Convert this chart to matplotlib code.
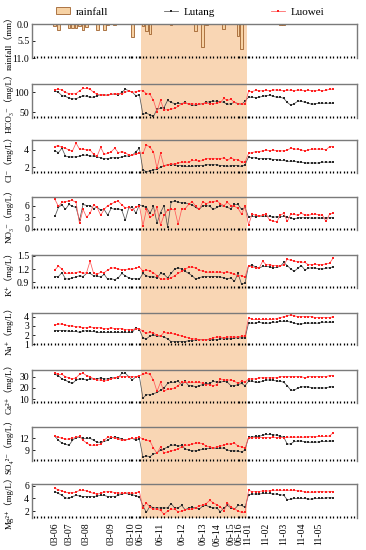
import numpy as np
import matplotlib
matplotlib.use('Agg')
import matplotlib.pyplot as plt
from matplotlib.patches import Patch, Rectangle
from matplotlib.lines import Line2D
from matplotlib.ticker import MultipleLocator

plt.rcParams['font.family'] = ['Liberation Serif', 'DejaVu Serif', 'Noto Sans CJK SC']
plt.rcParams['font.size'] = 7

#-----------------------------------------------------------------
#                            data
#-----------------------------------------------------------------
# samples: March (25), June (30), November (25)
hco3_lutang = ([104, 100, 92, 90, 86, 84, 84, 88, 92, 90, 88, 88, 92, 94, 94, 93, 95, 96, 94, 100, 108, 104, 100, 92, 94]
               + [45, 48, 44, 40, 58, 60, 62, 80, 75, 72, 73, 72, 75, 70, 68, 68, 70, 72, 75, 77, 78, 78, 77, 75, 70, 72, 75, 72, 70, 78]
               + [88, 88, 87, 88, 90, 92, 93, 90, 88, 88, 85, 75, 68, 72, 78, 78, 75, 73, 70, 72, 73, 73, 73, 73, 73])
hco3_luowei = ([106, 108, 106, 100, 97, 96, 97, 104, 110, 110, 108, 100, 96, 93, 93, 93, 95, 97, 96, 97, 100, 104, 100, 102, 104]
               + [104, 97, 95, 80, 52, 80, 56, 57, 58, 60, 65, 72, 73, 72, 72, 70, 71, 72, 73, 72, 72, 73, 75, 85, 80, 83, 75, 72, 72, 70]
               + [103, 102, 105, 104, 104, 105, 104, 106, 106, 105, 104, 106, 105, 104, 106, 105, 104, 105, 104, 104, 105, 104, 105, 108, 108])

cl_lutang = ([3.9, 3.7, 4.2, 3.3, 3.2, 3.2, 3.2, 3.3, 3.4, 3.4, 3.3, 3.3, 3.2, 3.1, 3.0, 3.0, 3.1, 3.1, 3.1, 3.2, 3.3, 3.3, 3.4, 3.8, 4.2]
             + [1.7, 1.5, 1.6, 1.7, 1.8, 2.0, 2.2, 2.3, 2.3, 2.3, 2.2, 2.2, 2.1, 2.1, 2.1, 2.2, 2.2, 2.2, 2.3, 2.3, 2.3, 2.3, 2.2, 2.2, 2.1, 2.2, 2.2, 2.2, 2.1, 2.3]
             + [3.2, 3.1, 3.1, 3.0, 3.0, 3.0, 3.0, 2.9, 2.9, 2.8, 2.8, 2.7, 2.7, 2.7, 2.6, 2.6, 2.5, 2.5, 2.5, 2.5, 2.5, 2.6, 2.6, 2.6, 2.6])
cl_luowei = ([4.4, 4.5, 4.3, 4.2, 4.0, 3.9, 4.8, 4.1, 4.1, 4.0, 4.0, 3.5, 3.3, 4.3, 3.5, 3.6, 3.8, 4.2, 3.7, 3.8, 3.7, 3.4, 3.4, 3.5, 3.7]
             + [3.6, 4.6, 4.3, 3.8, 1.9, 3.6, 2.1, 2.3, 2.4, 2.4, 2.5, 2.6, 2.6, 2.6, 2.8, 2.8, 2.7, 2.8, 3.0, 3.0, 3.0, 3.0, 3.0, 3.1, 2.8, 3.1, 2.9, 2.9, 2.6, 2.6]
             + [3.6, 3.7, 3.8, 3.8, 3.9, 4.0, 3.9, 4.0, 3.9, 3.9, 3.9, 4.0, 4.2, 4.1, 4.1, 4.0, 3.9, 4.0, 4.1, 4.1, 4.1, 4.1, 4.0, 4.4, 4.4])

no3_lutang = ([3.2, 5.5, 6.2, 5.0, 6.3, 5.8, 5.5, 2.2, 6.3, 6.0, 6.0, 5.2, 5.6, 4.8, 5.0, 3.5, 5.3, 5.0, 5.2, 4.8, 2.2, 5.5, 5.6, 4.0, 6.2]
              + [5.8, 5.5, 4.0, 5.8, 1.5, 4.2, 6.0, 0.5, 6.8, 7.2, 6.8, 6.7, 6.7, 6.4, 6.2, 5.5, 5.0, 6.0, 6.0, 5.8, 5.0, 5.5, 6.0, 5.8, 5.5, 5.2, 6.3, 6.3, 5.0, 5.5]
              + [3.0, 3.2, 3.1, 3.3, 3.2, 3.3, 3.2, 3.0, 3.1, 3.1, 3.2, 3.0, 2.8, 2.6, 2.8, 2.9, 2.8, 2.9, 2.7, 2.8, 2.8, 2.7, 2.9, 2.8, 2.9])
no3_luowei = ([7.6, 5.8, 6.8, 7.0, 7.2, 7.3, 6.8, 1.4, 5.0, 3.0, 4.0, 6.2, 5.5, 3.5, 5.0, 6.0, 6.3, 7.0, 7.1, 6.2, 5.4, 5.5, 4.8, 5.6, 6.0]
              + [0.8, 5.0, 3.0, 3.5, 5.5, 1.0, 3.5, 4.8, 5.0, 5.0, 1.2, 5.0, 5.2, 6.3, 7.0, 5.8, 5.0, 7.0, 6.5, 6.8, 7.0, 7.2, 6.5, 6.0, 6.8, 6.0, 5.8, 5.3, 3.8, 5.8]
              + [1.0, 3.8, 3.5, 3.3, 3.6, 3.7, 2.2, 2.0, 1.8, 3.5, 4.0, 1.9, 3.8, 3.7, 3.5, 4.0, 3.6, 3.5, 3.7, 3.8, 3.6, 3.5, 1.9, 3.8, 4.0])

k_lutang = ([1.03, 1.03, 1.12, 0.98, 0.97, 1.00, 1.02, 1.05, 1.03, 1.10, 1.10, 1.05, 1.04, 1.02, 1.08, 0.97, 0.98, 0.96, 1.00, 1.10, 1.05, 1.00, 0.98, 0.98, 0.97]
            + [1.10, 1.05, 1.02, 1.03, 1.00, 1.10, 1.08, 1.00, 1.10, 1.20, 1.23, 1.20, 1.15, 1.10, 1.05, 0.97, 1.00, 1.03, 1.03, 1.03, 1.03, 1.03, 1.02, 1.00, 0.98, 1.00, 0.92, 1.10, 0.86, 0.88]
            + [1.28, 1.29, 1.25, 1.22, 1.26, 1.26, 1.25, 1.23, 1.24, 1.26, 1.35, 1.28, 1.20, 1.15, 1.22, 1.28, 1.18, 1.22, 1.23, 1.22, 1.21, 1.20, 1.22, 1.23, 1.25])
k_luowei = ([1.18, 1.27, 1.20, 1.10, 1.11, 1.10, 1.12, 1.14, 1.10, 1.12, 1.38, 1.10, 1.08, 1.13, 1.12, 1.18, 1.22, 1.23, 1.20, 1.19, 1.19, 1.20, 1.20, 1.22, 1.25]
            + [1.15, 1.18, 1.15, 1.12, 1.05, 0.97, 0.97, 0.98, 1.00, 1.05, 1.10, 1.15, 1.20, 1.24, 1.25, 1.22, 1.18, 1.15, 1.13, 1.13, 1.13, 1.13, 1.13, 1.12, 1.14, 1.10, 1.08, 1.05, 1.05, 1.02]
            + [1.28, 1.25, 1.23, 1.22, 1.38, 1.30, 1.30, 1.28, 1.28, 1.27, 1.30, 1.42, 1.40, 1.38, 1.37, 1.36, 1.35, 1.30, 1.30, 1.31, 1.30, 1.30, 1.32, 1.33, 1.45])

na_lutang = ([2.5, 2.5, 2.5, 2.5, 2.4, 2.4, 2.4, 2.3, 2.4, 2.5, 2.4, 2.4, 2.3, 2.3, 2.3, 2.3, 2.3, 2.3, 2.3, 2.3, 2.3, 2.3, 2.3, 2.8, 2.6]
             + [1.7, 1.6, 1.9, 2.0, 1.9, 1.9, 1.8, 1.6, 1.3, 1.3, 1.3, 1.3, 1.3, 1.4, 1.4, 1.5, 1.5, 1.5, 1.5, 1.5, 1.5, 1.5, 1.6, 1.6, 1.6, 1.6, 1.7, 1.7, 1.7, 1.7]
             + [3.3, 3.3, 3.3, 3.4, 3.3, 3.3, 3.3, 3.4, 3.4, 3.5, 3.5, 3.5, 3.4, 3.3, 3.2, 3.2, 3.3, 3.3, 3.3, 3.3, 3.3, 3.4, 3.4, 3.4, 3.4])
na_luowei = ([3.1, 3.2, 3.2, 3.1, 3.0, 3.0, 2.9, 2.9, 2.8, 2.8, 2.9, 2.8, 2.8, 2.8, 2.7, 2.7, 2.8, 2.7, 2.7, 2.7, 2.6, 2.6, 2.6, 2.7, 2.7]
             + [2.4, 2.2, 2.3, 2.2, 2.0, 1.9, 2.3, 2.2, 2.2, 2.1, 2.0, 1.9, 1.8, 1.7, 1.6, 1.6, 1.5, 1.5, 1.5, 1.6, 1.7, 1.8, 1.8, 1.7, 1.8, 1.8, 1.8, 1.8, 1.9, 1.9]
             + [3.9, 3.7, 3.7, 3.7, 3.7, 3.7, 3.7, 3.7, 3.8, 3.9, 4.0, 4.1, 4.2, 4.1, 4.0, 4.0, 4.0, 4.0, 4.0, 3.9, 3.9, 3.9, 3.9, 3.9, 4.0])

ca_lutang = ([32, 31, 28, 27, 25, 24, 27, 28, 28, 27, 28, 28, 28, 29, 28, 28, 29, 29, 29, 33, 33, 30, 27, 30, 30]
             + [11, 14, 14, 15, 16, 18, 20, 24, 25, 25, 26, 23, 26, 22, 22, 21, 22, 23, 24, 24, 26, 25, 25, 26, 25, 22, 22, 23, 24, 22]
             + [26, 26, 25, 25, 26, 27, 27, 27, 26, 26, 25, 22, 18, 18, 20, 21, 21, 21, 20, 20, 20, 20, 20, 21, 21])
ca_luowei = ([33, 32, 32, 30, 29, 28, 29, 32, 33, 31, 30, 28, 27, 27, 26, 27, 28, 29, 30, 30, 30, 30, 30, 30, 31]
             + [32, 33, 32, 27, 17, 25, 17, 19, 19, 20, 22, 25, 25, 25, 25, 25, 25, 24, 23, 23, 22, 23, 28, 27, 27, 27, 26, 24, 26, 25]
             + [28, 28, 28, 29, 29, 29, 29, 29, 29, 30, 30, 30, 30, 30, 30, 30, 29, 30, 30, 30, 30, 30, 30, 31, 31])

so4_lutang = ([12.5, 11.5, 10.8, 10.5, 10.2, 11.5, 12.2, 12.3, 12.0, 12.0, 12.0, 11.5, 11.0, 11.0, 11.2, 11.5, 12.2, 12.3, 12.2, 11.8, 11.6, 11.8, 12.0, 11.5, 11.8]
              + [7.2, 7.5, 7.3, 8.0, 8.3, 9.0, 9.3, 9.8, 10.2, 10.3, 10.0, 10.2, 9.3, 9.0, 8.8, 8.8, 9.0, 9.2, 9.3, 9.5, 9.5, 9.4, 9.5, 9.5, 9.0, 8.8, 8.8, 8.7, 8.5, 9.0]
              + [12.3, 12.3, 12.5, 12.5, 12.8, 13.0, 13.0, 12.9, 12.8, 12.5, 12.3, 10.5, 10.6, 11.2, 11.3, 11.3, 11.1, 11.0, 11.0, 11.0, 11.1, 11.2, 11.2, 11.3, 11.3])
so4_luowei = ([12.5, 12.3, 12.0, 11.8, 11.8, 12.0, 12.3, 12.5, 11.5, 10.8, 10.3, 10.2, 10.3, 10.5, 11.5, 12.3, 12.3, 12.0, 11.8, 11.5, 11.5, 11.8, 12.0, 12.0, 12.3]
              + [11.8, 11.5, 11.3, 9.5, 8.2, 9.8, 8.3, 8.5, 8.8, 9.0, 9.3, 9.8, 10.2, 10.3, 10.5, 10.8, 10.8, 10.6, 10.0, 9.8, 9.6, 9.8, 10.0, 10.3, 10.5, 10.6, 10.8, 10.0, 9.8, 9.5]
              + [12.1, 12.1, 12.2, 12.2, 12.2, 12.2, 12.2, 12.3, 12.2, 12.2, 12.2, 12.3, 12.3, 12.3, 12.3, 12.3, 12.3, 12.4, 12.4, 12.4, 12.5, 12.5, 12.5, 12.6, 13.4])

mg_lutang = ([5.1, 4.8, 4.5, 4.1, 4.0, 4.3, 4.5, 4.4, 4.3, 4.3, 4.3, 4.3, 4.4, 4.5, 4.5, 4.3, 4.3, 4.3, 4.5, 4.7, 4.8, 4.7, 4.6, 4.4, 4.3]
             + [2.8, 1.8, 2.8, 2.5, 2.5, 2.5, 2.5, 2.5, 3.2, 2.5, 2.5, 2.9, 2.2, 2.5, 2.6, 2.5, 2.3, 2.8, 2.9, 2.6, 2.5, 2.5, 1.9, 2.5, 2.9, 2.5, 2.3, 2.9, 2.9, 2.6]
             + [4.6, 4.7, 4.7, 4.7, 4.8, 4.8, 4.8, 4.7, 4.7, 4.6, 4.5, 3.8, 3.9, 4.0, 4.0, 4.0, 4.0, 3.9, 3.9, 4.0, 4.0, 4.0, 4.1, 4.1, 4.1])
mg_luowei = ([5.6, 5.4, 5.2, 5.0, 4.9, 4.9, 5.0, 5.3, 5.3, 5.2, 5.0, 4.8, 4.7, 4.8, 5.0, 5.1, 5.1, 4.9, 4.9, 4.8, 4.9, 4.9, 4.8, 4.9, 5.1]
             + [2.5, 3.3, 2.6, 2.3, 2.3, 2.1, 1.5, 2.0, 2.3, 2.3, 1.9, 2.0, 2.2, 2.3, 2.3, 2.5, 2.8, 3.0, 3.2, 3.7, 3.3, 3.0, 2.7, 2.0, 3.3, 2.6, 2.4, 2.0, 1.8, 1.8]
             + [5.3, 5.1, 5.1, 5.1, 5.2, 5.2, 5.2, 5.3, 5.3, 5.3, 5.3, 5.3, 5.3, 5.3, 5.2, 5.2, 5.0, 5.0, 5.0, 5.0, 5.1, 5.1, 5.0, 5.1, 5.1])

# rainfall (mm) at sample index
rain_idx = [0, 1, 4, 5, 6, 7, 8, 9, 12, 14, 15, 17, 22, 25, 26, 27, 33, 40, 42, 43, 48, 52, 53, 64, 65]
rain_mm = [0.5, 1.8, 1.2, 1.2, 1.2, 0.8, 2.0, 1.0, 2.0, 2.0, 0.3, 0.4, 4.2, 0.5, 2.4, 3.2, 0.3, 2.4, 7.4, 0.3, 1.6, 3.8, 8.1, 0.3, 0.3]

date_idx = [0, 4, 9, 16, 21.6, 24.1, 30, 36, 42, 46, 50, 52.3, 54.8, 60, 65, 70, 75]
date_labels = ['03-06', '03-07', '03-08', '03-09', '03-10', '06-10', '06-11', '06-12', '06-13',
               '06-14', '06-15', '06-16', '11-01', '11-02', '11-03', '11-04', '11-05']

ions = [('HCO₃⁻（mg/L）', hco3_lutang, hco3_luowei, (36, 121), [50, 100]),
        ('Cl⁻（mg/L）', cl_lutang, cl_luowei, (1.35, 5.15), [2, 4]),
        ('NO₃⁻（mg/L）', no3_lutang, no3_luowei, (-0.3, 8.2), [0, 3, 6]),
        ('K⁺（mg/L）', k_lutang, k_luowei, (0.77, 1.52), [0.9, 1.2, 1.5]),
        ('Na⁺（mg/L）', na_lutang, na_luowei, (0.93, 4.4), [1, 2, 3, 4]),
        ('Ca²⁺（mg/L）', ca_lutang, ca_luowei, (6.7, 35.9), [10, 20, 30]),
        ('SO₄²⁻（mg/L）', so4_lutang, so4_luowei, (6.2, 14.9), [9, 12]),
        ('Mg²⁺（mg/L）', mg_lutang, mg_luowei, (0.9, 6.3), [2, 4, 6])]

shade = (24.4, 54.6)
xlim = (-6.5, 85.8)

#-----------------------------------------------------------------
#                            plot
#-----------------------------------------------------------------
W, H = 366, 550
fig = plt.figure(figsize=(W/100., H/100.), dpi=100)

# panel top/bottom in pixels
panels = [(24, 58), (84, 118), (140, 173), (197, 230), (255, 288),
          (313, 345), (370, 403), (427, 461), (484, 518)]
left, right = 32, 357

black = '#2a2a2a'
red = '#ff2020'
shadecol = '#f9d6b4'
mstyle = dict(marker='s', lw=0.55, ms=1.8, mew=0)
labsize = 6.5


def style_axis(ax, last=False):
    ax.set_facecolor('none')
    ax.set_xlim(xlim)
    for side in ['top', 'left', 'right']:
        ax.spines[side].set_color('#7a7a7a')
        ax.spines[side].set_linewidth(1.0)
    ax.spines['bottom'].set_visible(False)
    ax.xaxis.set_minor_locator(MultipleLocator(1))
    ax.tick_params(axis='x', which='minor', direction='in', length=1.5, width=0.9, color='k')
    ax.tick_params(axis='x', which='major', direction='in', length=1.5, width=0.9, color='k')
    ax.tick_params(axis='y', direction='in', length=2, width=0.6, pad=2, labelsize=7)
    ax.set_xticks(date_idx)
    if last:
        ax.set_xticklabels(date_labels, rotation=90, fontsize=7)
    else:
        ax.set_xticklabels([])
    ax.yaxis.set_label_coords(-0.056, 0.5)


axes = []
for (t, b) in panels:
    ax = fig.add_axes([left/W, 1 - b/float(H), (right-left)/float(W), (b-t)/float(H)])
    axes.append(ax)

# rainfall
ax = axes[0]
style_axis(ax)
ax.bar(rain_idx, rain_mm, width=0.8, color='#f7d2a4', edgecolor='#a0622e', linewidth=0.6)
ax.set_ylim(11, 0)
ax.set_yticks([0, 5.5, 11])
ax.set_yticklabels(['0.0', '5.5', '11.0'])
ax.set_ylabel('rainfall（mm）', fontsize=labsize)

x = np.arange(len(hco3_lutang))
for i, (lab, lt, lw, yl, yt) in enumerate(ions):
    ax = axes[i+1]
    style_axis(ax, last=(i == len(ions)-1))
    ax.plot(x, lt, color='#555555', mfc=black, **mstyle)
    ax.plot(x, lw, color='#ff5a5a', mfc=red, **mstyle)
    ax.set_ylim(yl)
    ax.set_yticks(yt)
    ax.set_ylabel(lab, fontsize=labsize)

# shaded period spanning all panels
trans = axes[0].transData + fig.transFigure.inverted()
x0 = trans.transform((shade[0], 0))[0]
x1 = trans.transform((shade[1], 0))[0]
y0 = 1 - panels[-1][1]/float(H)
y1 = 1 - panels[0][0]/float(H)
fig.patches.append(Rectangle((x0, y0), x1-x0, y1-y0, transform=fig.transFigure,
                             facecolor=shadecol, edgecolor='none', zorder=-1))

handles = [Patch(facecolor='#f7d2a4', edgecolor='#a0622e', linewidth=0.6),
           Line2D([], [], color='#555555', mfc=black, **mstyle),
           Line2D([], [], color='#ff5a5a', mfc=red, **mstyle)]
fig.legend(handles, ['rainfall', 'Lutang', 'Luowei'], loc='upper center',
           bbox_to_anchor=(0.52, 1.005), ncol=3, frameon=False, fontsize=8,
           handlelength=1.3, handleheight=0.6, columnspacing=5.0, handletextpad=0.5)

plt.savefig('out.png', dpi=100)
plt.close()
